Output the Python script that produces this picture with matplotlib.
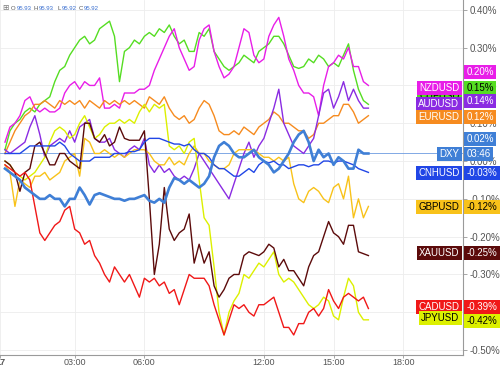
import numpy as np
import matplotlib
matplotlib.use("Agg")
import matplotlib.pyplot as plt


# ============================================================
# DATA  (percent change, one value per bar; 14 bars = 3 hours)
# ============================================================
bars = np.arange(74)

tick_bars = [-1, 14, 28, 52, 66, 80]
tick_labels = ["17", "03:00", "06:00", "12:00", "15:00", "18:00"]

y_ticks = [0.40, 0.30, 0.20, 0.10, 0.00, -0.10, -0.20, -0.30, -0.40, -0.50]

chfusd = [
    0.03, 0.08, 0.10, 0.11, 0.13, 0.14, 0.13, 0.15, 0.16, 0.17,
    0.21, 0.24, 0.25, 0.28, 0.30, 0.32, 0.33, 0.31, 0.32, 0.35,
    0.36, 0.37, 0.33, 0.21, 0.29, 0.30, 0.32, 0.31, 0.33, 0.34,
    0.33, 0.35, 0.34, 0.36, 0.33, 0.31, 0.32, 0.29, 0.29, 0.34,
    0.33, 0.35, 0.29, 0.27, 0.25, 0.24, 0.25, 0.26, 0.28, 0.27,
    0.26, 0.29, 0.30, 0.31, 0.33, 0.33, 0.31, 0.28, 0.25, 0.245,
    0.25, 0.27, 0.26, 0.28, 0.27, 0.25, 0.26, 0.25, 0.28, 0.31,
    0.24, 0.19, 0.16, 0.15,
]

nzdusd = [
    0.05, 0.09, 0.10, 0.12, 0.16, 0.17, 0.14, 0.13, 0.14, 0.13,
    0.13, 0.14, 0.18, 0.20, 0.21, 0.19, 0.21, 0.20, 0.20, 0.22,
    0.14, 0.14, 0.15, 0.14, 0.18, 0.18, 0.18, 0.19, 0.19, 0.20,
    0.24, 0.27, 0.30, 0.33, 0.35, 0.30, 0.27, 0.24, 0.25, 0.32,
    0.35, 0.36, 0.29, 0.25, 0.22, 0.23, 0.25, 0.30, 0.35, 0.34,
    0.28, 0.26, 0.27, 0.33, 0.36, 0.38, 0.33, 0.27, 0.24, 0.20,
    0.18, 0.18, 0.17, 0.12, 0.20, 0.25, 0.26, 0.28, 0.27, 0.30,
    0.25, 0.25, 0.21, 0.20,
]

eurusd = [
    0.02, 0.05, 0.08, 0.10, 0.12, 0.13, 0.15, 0.15, 0.16, 0.15,
    0.14, 0.16, 0.15, 0.16, 0.15, 0.16, 0.14, 0.16, 0.15, 0.14,
    0.16, 0.15, 0.16, 0.15, 0.16, 0.15, 0.16, 0.15, 0.14, 0.17,
    0.16, 0.15, 0.17, 0.14, 0.12, 0.11, 0.12, 0.10, 0.11, 0.14,
    0.16, 0.15, 0.12, 0.08, 0.07, 0.07, 0.08, 0.07, 0.09, 0.08,
    0.07, 0.09, 0.10, 0.11, 0.13, 0.12, 0.10, 0.10, 0.09, 0.08,
    0.08, 0.06, 0.07, 0.10, 0.10, 0.11, 0.12, 0.12, 0.15, 0.15,
    0.13, 0.10, 0.11, 0.12,
]

audusd = [
    0.03, 0.02, 0.03, 0.04, 0.05, 0.09, 0.12, 0.07, 0.01, 0.04,
    0.05, 0.06, 0.05, 0.08, 0.05, 0.09, 0.10, 0.11, 0.06, 0.05,
    0.05, 0.06, 0.03, 0.02, 0.01, 0.03, 0.04, 0.03, 0.06, -0.01,
    -0.03, -0.01, -0.03, -0.02, -0.04, -0.05, -0.04, -0.05, -0.02, 0.02,
    0.00, -0.02, -0.04, -0.06, -0.08, -0.10, -0.06, -0.02, 0.02, 0.05,
    0.01, 0.04, 0.06, 0.10, 0.14, 0.19, 0.10, 0.07, 0.04, 0.03,
    0.02, 0.04, 0.06, 0.12, 0.18, 0.19, 0.14, 0.17, 0.21, 0.16,
    0.19, 0.16, 0.14, 0.14,
]

dxy = [
    -0.02, -0.03, -0.04, -0.05, -0.07, -0.08, -0.09, -0.10, -0.10, -0.09,
    -0.10, -0.10, -0.12, -0.10, -0.10, -0.07, -0.09, -0.115, -0.09, -0.085,
    -0.09, -0.095, -0.10, -0.10, -0.105, -0.10, -0.10, -0.095, -0.09, -0.105,
    -0.11, -0.10, -0.11, -0.07, -0.045, -0.05, -0.06, -0.05, -0.06, -0.07,
    -0.06, -0.04, 0.01, 0.04, 0.05, 0.04, 0.02, 0.01, 0.01, 0.02,
    0.03, 0.01, 0.00, -0.01, -0.03, -0.02, 0.00, 0.02, 0.05, 0.07,
    0.08, 0.05, 0.00, 0.03, 0.01, 0.02, -0.01, 0.01, 0.00, -0.02,
    -0.02, 0.03, 0.02, 0.02,
]

cnhusd = [
    0.02, 0.02, 0.02, 0.02, 0.03, 0.04, 0.04, 0.04, 0.04, 0.04,
    0.04, 0.05, 0.04, 0.02, 0.01, 0.00, 0.00, 0.00, 0.01, 0.01,
    0.01, 0.01, 0.02, 0.02, 0.02, 0.025, 0.025, 0.03, 0.05, 0.06,
    0.06, 0.06, 0.055, 0.05, 0.045, 0.045, 0.04, 0.045, 0.03, 0.02,
    0.02, 0.01, -0.01, -0.02, -0.02, -0.03, -0.04, -0.04, -0.03, -0.02,
    -0.03, -0.01, 0.00, -0.005, 0.00, -0.01, -0.01, -0.02, -0.015, -0.01,
    -0.01, -0.015, -0.01, -0.01, 0.00, 0.00, -0.005, 0.00, 0.00, -0.005,
    -0.01, -0.02, -0.025, -0.03,
]

gbpusd = [
    -0.01, -0.03, -0.12, -0.05, -0.06, -0.07, -0.04, -0.04, -0.03, -0.05,
    -0.04, -0.03, 0.00, 0.01, 0.02, -0.04, 0.06, 0.05, 0.02, 0.02,
    0.03, 0.02, 0.01, 0.02, 0.01, 0.02, 0.03, 0.03, 0.03, 0.02,
    0.00, -0.01, -0.01, 0.01, -0.01, 0.00, -0.01, 0.02, 0.04, 0.02,
    0.02, 0.00, -0.01, -0.02, -0.02, -0.01, 0.02, 0.03, 0.03, 0.03,
    0.03, 0.02, 0.01, 0.01, 0.00, 0.01, 0.00, 0.01, -0.06, -0.10,
    -0.11, -0.08, -0.07, -0.08, -0.10, -0.11, -0.07, -0.06, -0.10, -0.04,
    -0.15, -0.10, -0.15, -0.12,
]

jpyusd = [
    0.00, -0.01, -0.03, -0.04, -0.05, -0.04, -0.03, -0.01, 0.01, 0.05,
    0.08, 0.09, 0.08, 0.06, 0.07, 0.10, 0.12, 0.09, 0.06, 0.07,
    0.09, 0.10, 0.10, 0.11, 0.10, 0.11, 0.10, 0.13, 0.15, 0.13,
    0.15, 0.14, 0.15, 0.04, 0.03, 0.04, 0.02, 0.05, 0.06, -0.05,
    -0.15, -0.17, -0.28, -0.40, -0.46, -0.40, -0.37, -0.35, -0.30, -0.31,
    -0.29, -0.27, -0.28, -0.26, -0.24, -0.30, -0.32, -0.31, -0.32, -0.34,
    -0.36, -0.38, -0.39, -0.38, -0.36, -0.37, -0.41, -0.42, -0.36, -0.31,
    -0.33, -0.40, -0.42, -0.42,
]

cadusd = [
    -0.01, -0.02, -0.03, -0.04, -0.03, -0.05, -0.12, -0.19, -0.21, -0.19,
    -0.17, -0.16, -0.13, -0.12, -0.18, -0.19, -0.22, -0.21, -0.25, -0.27,
    -0.30, -0.32, -0.28, -0.30, -0.32, -0.30, -0.33, -0.36, -0.31, -0.32,
    -0.31, -0.33, -0.32, -0.35, -0.34, -0.38, -0.34, -0.30, -0.31, -0.31,
    -0.31, -0.33, -0.38, -0.42, -0.46, -0.42, -0.38, -0.39, -0.38, -0.40,
    -0.41, -0.38, -0.38, -0.37, -0.36, -0.40, -0.44, -0.44, -0.46, -0.43,
    -0.43, -0.40, -0.39, -0.41, -0.39, -0.34, -0.37, -0.39, -0.36, -0.35,
    -0.36, -0.37, -0.36, -0.39,
]

xauusd = [
    0.00, -0.01, -0.03, -0.08, -0.03, -0.02, 0.04, 0.05, 0.02, -0.01,
    -0.01, 0.02, 0.02, 0.00, -0.01, -0.02, 0.10, 0.10, 0.06, 0.05,
    0.07, 0.04, 0.05, 0.09, 0.06, 0.055, 0.055, 0.055, 0.08, -0.10,
    -0.30, -0.22, -0.07, -0.18, -0.21, -0.19, -0.18, -0.14, -0.27, -0.22,
    -0.27, -0.24, -0.33, -0.36, -0.34, -0.31, -0.30, -0.30, -0.25, -0.24,
    -0.245, -0.25, -0.24, -0.22, -0.23, -0.28, -0.26, -0.29, -0.29, -0.31,
    -0.33, -0.28, -0.25, -0.24, -0.20, -0.16, -0.19, -0.20, -0.22, -0.17,
    -0.17, -0.24, -0.245, -0.25,
]

# name, values, colour, line width, text colour on tag
series = [
    ("CHFUSD", chfusd, "#55dd22", 1.0, "black"),
    ("NZDUSD", nzdusd, "#e81ee8", 1.0, "white"),
    ("EURUSD", eurusd, "#f68b1f", 1.0, "white"),
    ("AUDUSD", audusd, "#8a2be2", 1.0, "white"),
    ("GBPUSD", gbpusd, "#f8c21a", 1.0, "black"),
    ("JPYUSD", jpyusd, "#dcf000", 1.0, "black"),
    ("XAUUSD", xauusd, "#5c0b0b", 1.0, "white"),
    ("CADUSD", cadusd, "#f01818", 1.0, "white"),
    ("CNHUSD", cnhusd, "#2146e6", 1.0, "white"),
    ("DXY", dxy, "#3f7fd6", 1.9, "white"),
]

# tag layout on the price scale (already de-overlapped, in %)
name_tag_y = {
    "CHFUSD": 0.172, "NZDUSD": 0.193, "AUDUSD": 0.151, "EURUSD": 0.116,
    "DXY": 0.018, "CNHUSD": -0.032, "GBPUSD": -0.122, "XAUUSD": -0.243,
    "CADUSD": -0.386, "JPYUSD": -0.415,
}
value_tag_y = {
    "NZDUSD": 0.235, "CHFUSD": 0.193, "AUDUSD": 0.159, "EURUSD": 0.116,
    "DXY": 0.058, "CNHUSD": -0.032, "GBPUSD": -0.122, "XAUUSD": -0.243,
    "CADUSD": -0.386, "JPYUSD": -0.423,
}
dxy_price = 0.02
dxy_countdown = "03:46"

header_parts = [
    ("O", "#555555"), ("95.93", "#3a6fd0"), ("H", "#555555"), ("95.93", "#3a6fd0"),
    ("L", "#555555"), ("95.92", "#3a6fd0"), ("C", "#555555"), ("95.92", "#3a6fd0"),
]
header_x = [11, 17, 34, 39, 57, 62, 79, 84]


# ============================================================
# HELPERS
# ============================================================
def tag(ax, text, y, color, text_color, side):

    dx = 2.6 if side == "right" else -2.6

    ax.annotate(
        text,
        xy=(1, y),
        xycoords=("axes fraction", "data"),
        xytext=(dx, 0),
        textcoords="offset points",
        ha="left" if side == "right" else "right",
        va="center",
        fontsize=7,
        color=text_color,
        bbox=dict(boxstyle="square,pad=0.22", fc=color, ec="none"),
        annotation_clip=False,
        zorder=6,
    )


# ============================================================
# PLOT
# ============================================================
plt.rcParams["font.family"] = ["Liberation Sans", "DejaVu Sans"]

fig = plt.figure(figsize=(5, 3.67), dpi=100)
ax = fig.add_axes([0, 12 / 367, 463 / 500, 355 / 367])

for name, values, color, lw, _ in series:
    ax.plot(bars, values, color=color, lw=lw, zorder=3)

ax.axhline(dxy_price, color="#6d9be0", lw=0.6, zorder=2)

ax.set_xlim(-0.6, 92)
ax.set_ylim(-0.513, 0.426)

ax.set_xticks(tick_bars)
ax.set_xticklabels(tick_labels)
ax.get_xticklabels()[0].set_fontweight("bold")

ax.yaxis.tick_right()
ax.set_yticks(y_ticks)
ax.set_yticklabels([f"{v:.2f}%" for v in y_ticks])

ax.tick_params(axis="y", length=3, width=0.6, color="#999999",
               labelsize=7, labelcolor="#555555", pad=2)
ax.tick_params(axis="x", length=2, width=0.6, color="#999999",
               labelsize=6.5, labelcolor="#555555", pad=0.5)

ax.grid(True, color="#ededed", lw=0.6, zorder=0)
ax.set_axisbelow(True)

for side in ["top", "left"]:
    ax.spines[side].set_visible(False)
for side in ["right", "bottom"]:
    ax.spines[side].set_color("#9a9a9a")
    ax.spines[side].set_linewidth(0.8)

# tags: name boxes left of the scale, value boxes on the scale
colors = {s[0]: (s[2], s[4]) for s in series}
finals = {s[0]: s[1][-1] for s in series}

for name in ["CHFUSD", "NZDUSD", "AUDUSD", "EURUSD", "DXY", "CNHUSD",
             "GBPUSD", "XAUUSD", "CADUSD", "JPYUSD"]:
    c, tc = colors[name]
    tag(ax, name, name_tag_y[name], c, tc, "left")

for name in ["NZDUSD", "CHFUSD", "AUDUSD", "EURUSD", "DXY", "CNHUSD",
             "GBPUSD", "XAUUSD", "CADUSD", "JPYUSD"]:
    c, tc = colors[name]
    tag(ax, f"{finals[name]:.2f}%", value_tag_y[name], c, tc, "right")

c, tc = colors["DXY"]
tag(ax, dxy_countdown, name_tag_y["DXY"], c, tc, "right")

# OHLC header
fig.text(2 / 500, 1 - 8 / 367, "\u229e", fontsize=5.5, color="#777777",
         va="center", family=["DejaVu Sans"])
for (txt, col), x in zip(header_parts, header_x):
    fig.text(x / 500, 1 - 8 / 367, txt, fontsize=4.3, color=col, va="center")

fig.savefig("out.png", dpi=100)
